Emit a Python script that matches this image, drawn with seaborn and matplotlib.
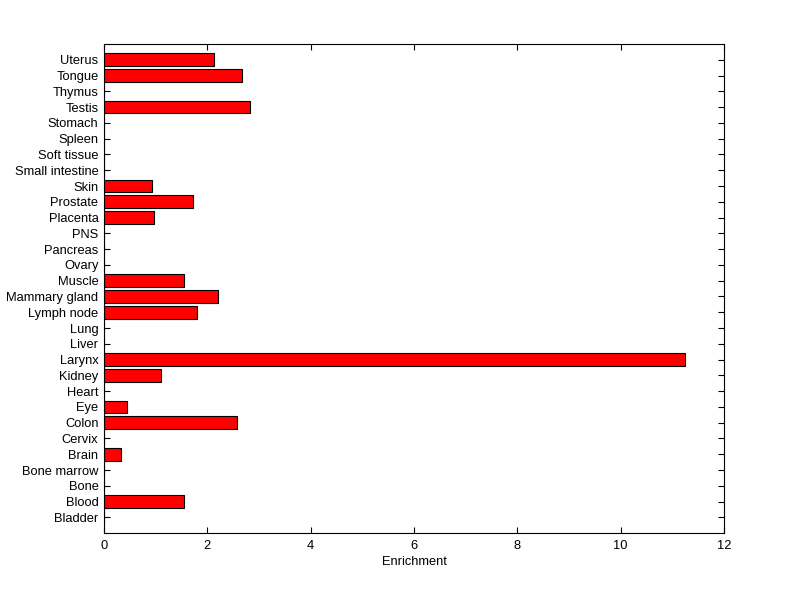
import matplotlib
matplotlib.use("Agg")
import matplotlib.pyplot as plt
import seaborn as sns
import pandas as pd

tissues = ["Uterus", "Tongue", "Thymus", "Testis", "Stomach", "Spleen", "Soft tissue",
           "Small intestine", "Skin", "Prostate", "Placenta", "PNS", "Pancreas", "Ovary",
           "Muscle", "Mammary gland", "Lymph node", "Lung", "Liver", "Larynx", "Kidney",
           "Heart", "Eye", "Colon", "Cervix", "Brain", "Bone marrow", "Bone", "Blood", "Bladder"]
enrichment = [2.13, 2.68, 0, 2.83, 0, 0, 0,
              0, 0.93, 1.72, 0.97, 0, 0, 0,
              1.55, 2.21, 1.80, 0, 0, 11.24, 1.10,
              0, 0.45, 2.58, 0, 0.33, 0, 0, 1.55, 0]

df = pd.DataFrame({"tissue": tissues, "enrichment": enrichment})

sns.set_style("ticks", {"xtick.direction": "in", "ytick.direction": "in",
                        "xtick.top": True, "ytick.right": True,
                        "xtick.bottom": True, "ytick.left": True,
                        "axes.edgecolor": "black", "xtick.color": "black",
                        "ytick.color": "black", "text.color": "black",
                        "axes.labelcolor": "black"})
plt.rcParams["font.family"] = ["Liberation Sans", "DejaVu Sans"]

fig = plt.figure(figsize=(8, 5.99), dpi=100)
ax = fig.add_axes([0.13, 0.11, 0.775, 0.8165])

sns.barplot(data=df, x="enrichment", y="tissue", order=tissues, orient="h",
            color="#ff0000", saturation=1, width=0.8, edgecolor="black",
            linewidth=0.8, ax=ax)

ax.set_xlim(0, 12)
ax.set_ylim(len(tissues), -1)
ax.set_xticks([0, 2, 4, 6, 8, 10, 12])
ax.set_xlabel("Enrichment", fontsize=9.3, labelpad=3)
ax.set_ylabel("")
ax.xaxis.set_ticks_position("both")
ax.yaxis.set_ticks_position("both")
ax.tick_params(direction="in", length=4.5, width=0.8, labelsize=9.3,
               color="black", labelcolor="black")
ax.tick_params(axis="x", pad=5)
ax.tick_params(axis="y", pad=4)
for s in ax.spines.values():
    s.set_visible(True)
    s.set_color("black")
    s.set_linewidth(0.8)

fig.savefig("out.png", dpi=100)
